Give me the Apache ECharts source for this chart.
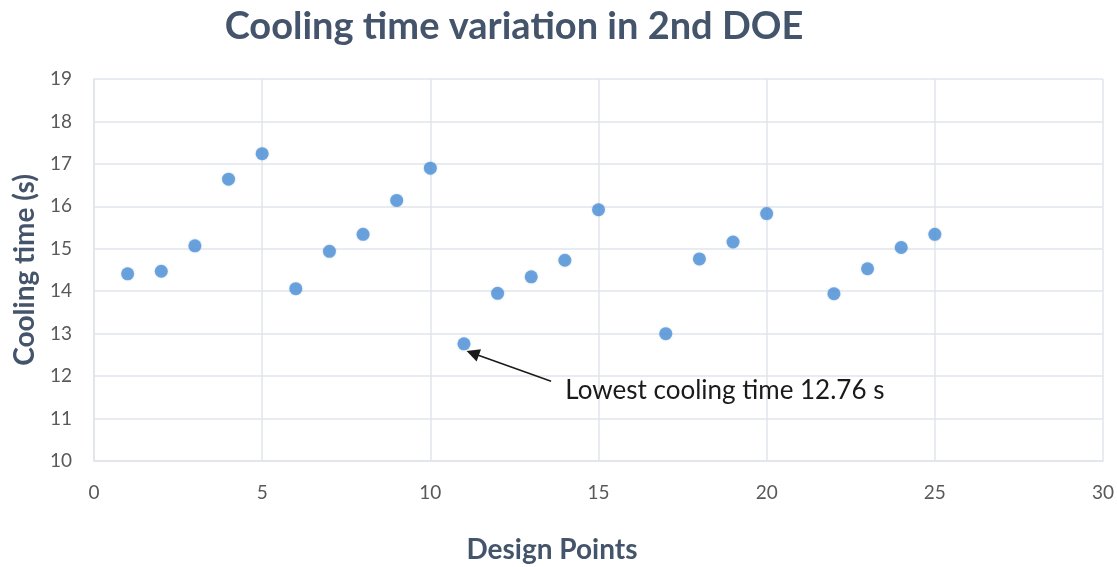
<!DOCTYPE html>
<html>
<head>
<meta charset="utf-8">
<script src="https://cdn.jsdelivr.net/npm/echarts@6/dist/echarts.min.js"></script>
<style>
  html, body { margin: 0; padding: 0; background: #ffffff; }
  #chart { width: 1117px; height: 567px; }
</style>
</head>
<body>
<div id="chart"></div>
<script>
// Design points of the 2nd DOE and their cooling time (s); runs 16 and 21 have no result
const designPoints = [1, 2, 3, 4, 5, 6, 7, 8, 9, 10, 11, 12, 13, 14, 15, 17, 18, 19, 20, 22, 23, 24, 25];
const coolingTimes = [14.41, 14.47, 15.07, 16.64, 17.24, 14.06, 14.94, 15.34, 16.14, 16.90,
                      12.76, 13.95, 14.34, 14.73, 15.92, 13.00, 14.76, 15.16, 15.83, 13.94, 14.53, 15.03, 15.34];

const chartTitle = 'Cooling time variation in 2nd DOE';
const xAxisTitle = 'Design Points';
const yAxisTitle = 'Cooling time (s)';

// Axis ranges
const xRange = { min: 0, max: 30, step: 5 };
const yRange = { min: 10, max: 19, step: 1 };

// Note callout: text anchor and arrow tail, in data units
const noteAnchor = [14.0, 11.66];
const arrowTail = [13.59, 11.88];

const points = designPoints.map((x, i) => [x, coolingTimes[i]]);
let minIdx = 0;
coolingTimes.forEach((v, i) => { if (v < coolingTimes[minIdx]) minIdx = i; });
const lowest = points[minIdx];
// arrow head stops just short of the lowest marker
const arrowHead = [lowest[0] + 0.26, lowest[1] - 0.22];

const FONT = 'Lato, "Open Sans", sans-serif';
const GRID_COLOR = '#e1e5ea';

const chart = echarts.init(document.getElementById('chart'), null, { renderer: 'canvas' });
chart.setOption({
  backgroundColor: '#ffffff',
  animation: false,
  title: [
    {
      text: chartTitle,
      left: 509,
      top: 3,
      textAlign: 'center',
      textStyle: { fontFamily: FONT, fontWeight: 'bold', fontSize: 38, color: '#44546a' }
    },
    {
      text: xAxisTitle,
      left: 547,
      top: 531,
      textAlign: 'center',
      textStyle: { fontFamily: FONT, fontWeight: 'bold', fontSize: 28, color: '#44546a' }
    }
  ],
  grid: { left: 94, right: 14, top: 79, bottom: 106, containLabel: false, outerBoundsMode: 'none' },
  xAxis: {
    type: 'value',
    min: xRange.min, max: xRange.max, interval: xRange.step,
    axisLine: { show: true, lineStyle: { color: GRID_COLOR, width: 1.5 } },
    axisTick: { show: false },
    splitLine: { show: true, lineStyle: { color: GRID_COLOR, width: 1.5 } },
    axisLabel: { fontFamily: FONT, fontSize: 19, color: '#595959', margin: 22 }
  },
  yAxis: {
    type: 'value',
    min: yRange.min, max: yRange.max, interval: yRange.step,
    name: yAxisTitle,
    nameLocation: 'middle',
    nameGap: 55,
    nameRotate: 90,
    nameTextStyle: { fontFamily: FONT, fontWeight: 'bold', fontSize: 28, color: '#44546a' },
    axisLine: { show: true, lineStyle: { color: GRID_COLOR, width: 1.5 } },
    axisTick: { show: false },
    splitLine: { show: true, lineStyle: { color: GRID_COLOR, width: 1.5 } },
    axisLabel: { fontFamily: FONT, fontSize: 19, color: '#595959', margin: 22 }
  },
  series: [
    {
      type: 'scatter',
      data: points,
      symbol: 'circle',
      symbolSize: 13,
      itemStyle: { color: '#4f92d8', shadowColor: 'rgba(60,110,170,0.35)', shadowBlur: 2 },
      markLine: {
        silent: true,
        symbol: ['none', 'triangle'],
        symbolSize: 13,
        label: { show: false },
        lineStyle: { color: '#1a1a1a', width: 1.5, type: 'solid' },
        data: [[{ coord: arrowTail }, { coord: arrowHead }]]
      },
      markPoint: {
        silent: true,
        symbol: 'circle',
        symbolSize: 1,
        itemStyle: { color: 'rgba(0,0,0,0)' },
        label: {
          show: true,
          position: 'right',
          distance: 0,
          fontFamily: FONT,
          fontSize: 26,
          color: '#1a1a1a',
          formatter: () => 'Lowest cooling time ' + lowest[1].toFixed(2) + ' s'
        },
        data: [{ coord: noteAnchor }]
      }
    }
  ]
});
</script>
</body>
</html>
